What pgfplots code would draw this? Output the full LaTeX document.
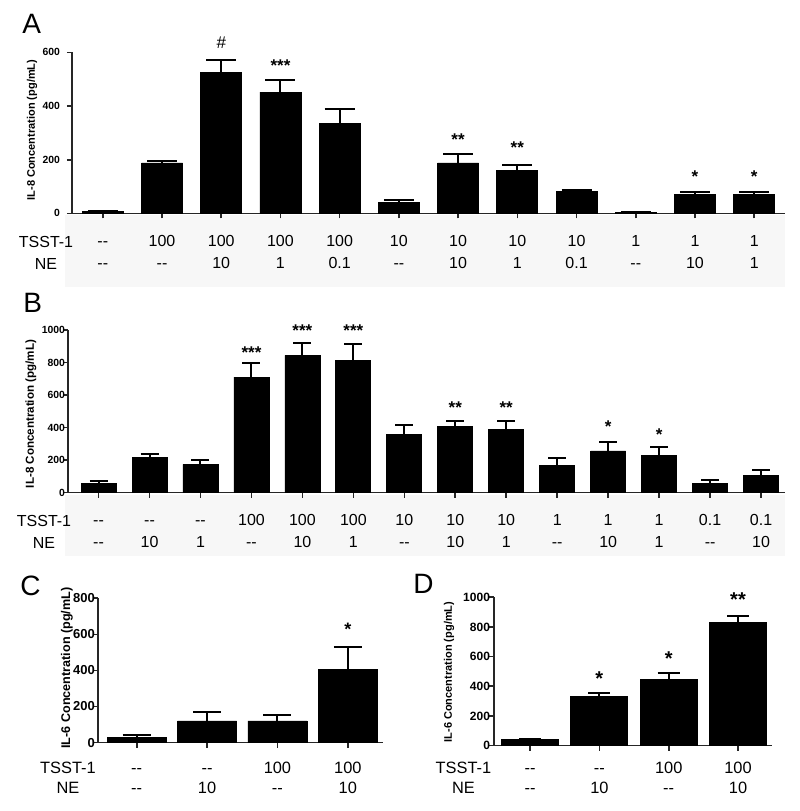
\documentclass[border=0pt]{standalone}
\usepackage{fontspec}
\setmainfont{Liberation Sans}
\usepackage{pgfplots}
\pgfplotsset{compat=1.18}

\newcommand{\nd}{-{}-}
\newcommand{\tl}[2]{\begin{tabular}{@{}c@{}}#1\\#2\end{tabular}}

\pgfplotsset{
  panel/.style={
    scale only axis, axis lines=left,
    every outer x axis line/.append style={-},
    every outer y axis line/.append style={-},
    axis line style={line width=0.8pt, black!85},
    tick style={line width=0.8pt, black!85},
    tick align=outside, major tick length=2.5pt,
    ymin=0, clip=false,
    /pgf/number format/assume math mode=true,
    /pgf/number format/1000 sep={},
    xticklabel style={anchor=north, inner sep=0pt},
    anchor=south west,
  },
  bars/.style={ybar, fill=black, draw=black, line width=0.4pt,
    error bars/y dir=plus, error bars/y explicit,
    error bars/error bar style={line width=1pt, black}},
}
\tikzset{star/.style={font=\fontsize{8.5}{10}\selectfont\bfseries, yshift=-1.9pt}}

\begin{document}
\begin{tikzpicture}
\useasboundingbox (0,0) rectangle (400pt,-405.5pt);
\fill[black!3] (32.5pt,-107.5pt) rectangle (392.5pt,-143.5pt);
\fill[black!3] (32.5pt,-247.5pt) rectangle (392.5pt,-278pt);

% ---- A ----
\begin{axis}[panel, at={(36pt,-106.7pt)}, width=356.5pt, height=80.5pt,
  xmin=-0.52, xmax=11.52, ymax=600, ytick={0,200,400,600},
  yticklabel style={font=\fontsize{5.2}{6}\selectfont\bfseries},
  xtick={0,...,11},
  xticklabel style={font=\fontsize{8}{11}\selectfont, yshift=-6.1pt},
  xticklabels={{\tl{\nd}{\nd}},{\tl{100}{\nd}},{\tl{100}{10}},{\tl{100}{1}},{\tl{100}{0.1}},{\tl{10}{\nd}},{\tl{10}{10}},{\tl{10}{1}},{\tl{10}{0.1}},{\tl{1}{\nd}},{\tl{1}{10}},{\tl{1}{1}}}]
\addplot[bars, bar width=20.5pt,
  error bars/error mark options={rotate=90, mark size=7.5pt, line width=1pt, black}]
  coordinates {
  (0,6) +- (0,3)
  (1,188) +- (0,6)
  (2,525) +- (0,45)
  (3,452) +- (0,45)
  (4,335) +- (0,53)
  (5,40) +- (0,9)
  (6,188) +- (0,34)
  (7,160) +- (0,22)
  (8,82) +- (0,7)
  (9,3) +- (0,1)
  (10,72) +- (0,7)
  (11,72) +- (0,7)
};
\node[font=\fontsize{8.5}{10}\selectfont] at (axis cs:2,635) {\#};
\node[star] at (axis cs:3,565) {***};
\node[star] at (axis cs:6,288) {**};
\node[star] at (axis cs:7,258) {**};
\node[star] at (axis cs:10,151) {*};
\node[star] at (axis cs:11,151) {*};
\end{axis}

% ---- B ----
\begin{axis}[panel, at={(34pt,-246.3pt)}, width=358.5pt, height=81.3pt,
  xmin=-0.6, xmax=13.47, ymax=1000, ytick={0,200,400,600,800,1000},
  yticklabel style={font=\fontsize{5.2}{6}\selectfont\bfseries, xshift=4.5pt},
  xtick={0,...,13},
  xticklabel style={font=\fontsize{8}{11}\selectfont, yshift=-6.1pt},
  xticklabels={{\tl{\nd}{\nd}},{\tl{\nd}{10}},{\tl{\nd}{1}},{\tl{100}{\nd}},{\tl{100}{10}},{\tl{100}{1}},{\tl{10}{\nd}},{\tl{10}{10}},{\tl{10}{1}},{\tl{1}{\nd}},{\tl{1}{10}},{\tl{1}{1}},{\tl{0.1}{\nd}},{\tl{0.1}{10}}}]
\addplot[bars, bar width=17.5pt,
  error bars/error mark options={rotate=90, mark size=4.5pt, line width=1pt, black}]
  coordinates {
  (0,57) +- (0,12)
  (1,215) +- (0,21)
  (2,174) +- (0,27)
  (3,711) +- (0,84)
  (4,844) +- (0,74)
  (5,815) +- (0,97)
  (6,359) +- (0,57)
  (7,406) +- (0,35)
  (8,391) +- (0,51)
  (9,168) +- (0,47)
  (10,256) +- (0,58)
  (11,228) +- (0,51)
  (12,55) +- (0,21)
  (13,103) +- (0,37)
};
\node[star] at (axis cs:3,887) {***};
\node[star] at (axis cs:4,1020) {***};
\node[star] at (axis cs:5,1020) {***};
\node[star] at (axis cs:7,545) {**};
\node[star] at (axis cs:8,545) {**};
\node[star] at (axis cs:10,426) {*};
\node[star] at (axis cs:11,381) {*};
\end{axis}

% ---- C ----
\begin{axis}[panel, at={(49pt,-371.3pt)}, width=142.5pt, height=72.2pt,
  xmin=-0.55, xmax=3.5, ymax=800, ytick={0,200,400,600,800},
  yticklabel style={font=\fontsize{6.5}{7}\selectfont\bfseries, xshift=4.5pt},
  xtick={0,...,3},
  xticklabel style={font=\fontsize{8.2}{10}\selectfont, yshift=-5.7pt},
  xticklabels={{\tl{\nd}{\nd}},{\tl{\nd}{10}},{\tl{100}{\nd}},{\tl{100}{10}}}]
\addplot[bars, bar width=29.5pt,
  error bars/error mark options={rotate=90, mark size=7pt, line width=1pt, black}]
  coordinates {
  (0,28) +- (0,13)
  (1,120) +- (0,48)
  (2,120) +- (0,33)
  (3,403) +- (0,126)
};
\node[star, font=\fontsize{9}{10}\selectfont\bfseries] at (axis cs:3,647) {*};
\end{axis}

% ---- D ----
\begin{axis}[panel, at={(247pt,-372.8pt)}, width=139pt, height=74.2pt,
  xmin=-0.52, xmax=3.49, ymax=1000, ytick={0,200,400,600,800,1000},
  yticklabel style={font=\fontsize{6}{7}\selectfont\bfseries, xshift=4pt},
  xtick={0,...,3},
  xticklabel style={font=\fontsize{8.2}{10}\selectfont, yshift=-4.2pt},
  xticklabels={{\tl{\nd}{\nd}},{\tl{\nd}{10}},{\tl{100}{\nd}},{\tl{100}{10}}}]
\addplot[bars, bar width=28.5pt,
  error bars/error mark options={rotate=90, mark size=5.5pt, line width=1pt, black}]
  coordinates {
  (0,40) +- (0,5)
  (1,330) +- (0,23)
  (2,443) +- (0,45)
  (3,832) +- (0,43)
};
\node[star, font=\fontsize{10}{11}\selectfont\bfseries] at (axis cs:1,477) {*};
\node[star, font=\fontsize{10}{11}\selectfont\bfseries] at (axis cs:2,612) {*};
\node[star, font=\fontsize{10}{11}\selectfont\bfseries] at (axis cs:3,1011) {**};
\end{axis}

% panel letters, row labels and y-axis titles
\begin{scope}[every node/.style={anchor=base west, inner sep=0pt, font=\fontsize{14}{16}\selectfont}]
\node at (11pt,-16.5pt) {A};
\node at (11.5pt,-156pt) {B};
\node at (10pt,-297.5pt) {C};
\node at (206.5pt,-296.5pt) {D};
\end{scope}

\begin{scope}[every node/.style={anchor=base, font=\fontsize{8}{10}\selectfont}]
\node at (23pt,-123.5pt) {TSST-1};
\node at (23pt,-134.5pt) {NE};
\node at (22pt,-263.3pt) {TSST-1};
\node at (22pt,-274.3pt) {NE};
\node[font=\fontsize{8.2}{10}\selectfont] at (34pt,-386.7pt) {TSST-1};
\node[font=\fontsize{8.2}{10}\selectfont] at (34pt,-396.7pt) {NE};
\node[font=\fontsize{8.2}{10}\selectfont] at (231.75pt,-386.7pt) {TSST-1};
\node[font=\fontsize{8.2}{10}\selectfont] at (231.75pt,-396.7pt) {NE};
\end{scope}

\node[rotate=90, font=\fontsize{5.5}{6}\selectfont\bfseries] at (16pt,-65pt) {IL-8 Concentration (pg/mL)};
\node[rotate=90, font=\fontsize{5.8}{6}\selectfont\bfseries] at (15.5pt,-207pt) {IL-8 Concentration (pg/mL)};
\node[rotate=90, font=\fontsize{6.3}{7}\selectfont\bfseries] at (33.5pt,-334pt) {IL-6 Concentration (pg/mL)};
\node[rotate=90, font=\fontsize{5.5}{6}\selectfont\bfseries] at (224.5pt,-336pt) {IL-6 Concentration (pg/mL)};
\end{tikzpicture}
\end{document}
